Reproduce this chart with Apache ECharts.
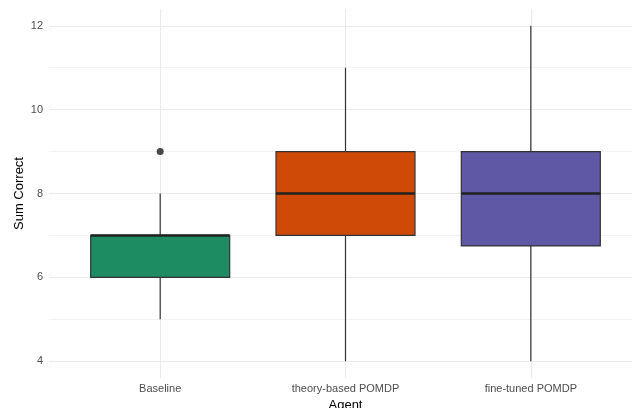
<!DOCTYPE html>
<html>
<head>
<meta charset="utf-8">
<script src="https://cdn.jsdelivr.net/npm/echarts@6/dist/echarts.min.js"></script>
<style>
  html, body { margin: 0; padding: 0; background: #ffffff; }
  #chart { width: 632px; height: 408px; }
</style>
</head>
<body>
<div id="chart"></div>
<script>
// Agents compared on the summed number of correct answers
const categories = ['Baseline', 'theory-based POMDP', 'fine-tuned POMDP'];
const whiskerLow = [5, 4, 4];
const quartile1 = [6, 7, 6.75];
const medians = [7, 8, 8];
const quartile3 = [7, 9, 9];
const whiskerHigh = [8, 11, 12];
const outliers = [[1, 9]]; // [category position, value]
const fillColors = ['#1e8c63', '#cf4a06', '#5f58a5'];

const yMajorTicks = [4, 6, 8, 10, 12];
const yMinorTicks = [5, 7, 9, 11];
const xPositions = categories.map((_, i) => i + 1);

const boxData = categories.map((_, i) => [
  i + 1, whiskerLow[i], quartile1[i], medians[i], quartile3[i], whiskerHigh[i]
]);

const chart = echarts.init(document.getElementById('chart'), null, { renderer: 'canvas' });

const lineColor = '#333333';

function renderBox(params, api) {
  const x = api.value(0);
  const lo = api.coord([x, api.value(1)]);
  const q1 = api.coord([x, api.value(2)]);
  const md = api.coord([x, api.value(3)]);
  const q3 = api.coord([x, api.value(4)]);
  const hi = api.coord([x, api.value(5)]);
  const halfW = api.size([0.75, 0])[0] / 2;
  const cx = lo[0];
  return {
    type: 'group',
    children: [
      { type: 'line', shape: { x1: cx, y1: lo[1], x2: cx, y2: q1[1] },
        style: { stroke: lineColor, lineWidth: 1.2 } },
      { type: 'line', shape: { x1: cx, y1: q3[1], x2: cx, y2: hi[1] },
        style: { stroke: lineColor, lineWidth: 1.2 } },
      { type: 'rect', shape: { x: cx - halfW, y: q3[1], width: halfW * 2, height: q1[1] - q3[1] },
        style: { fill: fillColors[params.dataIndex], stroke: lineColor, lineWidth: 1.2 } },
      { type: 'line', shape: { x1: cx - halfW, y1: md[1], x2: cx + halfW, y2: md[1] },
        style: { stroke: '#222222', lineWidth: 2.6 } }
    ]
  };
}

const option = {
  backgroundColor: '#ffffff',
  animation: false,
  grid: { left: 49, right: -10, top: 9, bottom: 30, containLabel: false, outerBoundsMode: 'none' },
  xAxis: {
    type: 'value',
    min: 0.4,
    max: 3.6,
    name: 'Agent',
    nameLocation: 'middle',
    nameGap: 21,
    nameTextStyle: { fontFamily: 'Liberation Sans', fontSize: 13, color: '#000000' },
    axisLine: { show: false },
    axisTick: { show: false, customValues: xPositions },
    axisLabel: {
      customValues: xPositions,
      margin: 5,
      fontFamily: 'Liberation Sans',
      fontSize: 11,
      color: '#4d4d4d',
      formatter: v => categories[Math.round(v) - 1] || ''
    },
    splitLine: { show: true, lineStyle: { color: '#ebebeb', width: 1 } }
  },
  yAxis: [
    {
      type: 'value',
      min: 3.6,
      max: 12.4,
      name: 'Sum Correct',
      nameLocation: 'middle',
      nameGap: 23,
      nameMoveOverlap: false,
      nameTextStyle: { fontFamily: 'Liberation Sans', fontSize: 13, color: '#000000' },
      axisLine: { show: false },
      axisTick: { show: false, customValues: yMajorTicks },
      axisLabel: {
        customValues: yMajorTicks,
        margin: 6,
        fontFamily: 'Liberation Sans',
        fontSize: 11,
        color: '#4d4d4d'
      },
      splitLine: { show: true, lineStyle: { color: '#ebebeb', width: 1 } }
    },
    {
      type: 'value',
      min: 3.6,
      max: 12.4,
      position: 'left',
      axisLine: { show: false },
      axisTick: { show: false, customValues: yMinorTicks },
      axisLabel: { show: false, customValues: yMinorTicks },
      splitLine: { show: true, lineStyle: { color: '#f3f3f3', width: 1 } }
    }
  ],
  series: [
    {
      type: 'custom',
      renderItem: renderBox,
      data: boxData,
      encode: { x: 0, y: [1, 2, 3, 4, 5] },
      z: 3
    },
    {
      type: 'scatter',
      data: outliers,
      symbol: 'circle',
      symbolSize: 7,
      itemStyle: { color: '#1a1a1a' },
      z: 4
    }
  ]
};

chart.setOption(option);
</script>
</body>
</html>
